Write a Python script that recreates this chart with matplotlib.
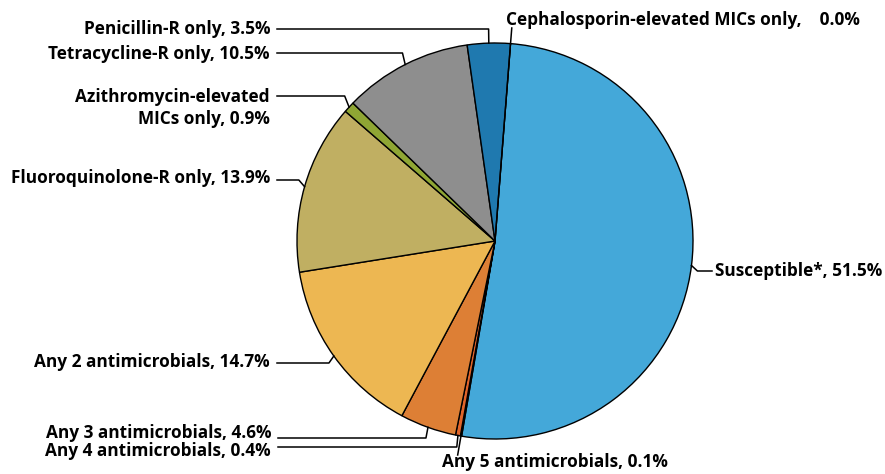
import matplotlib.pyplot as plt
import numpy as np

plt.rcParams['font.family'] = ['Open Sans', 'DejaVu Sans']

# slices, clockwise from just right of 12 o'clock
names = ['Susceptible*', 'Any 5 antimicrobials', 'Any 4 antimicrobials',
         'Any 3 antimicrobials', 'Any 2 antimicrobials', 'Fluoroquinolone-R only',
         'Azithromycin-elevated\nMICs only', 'Tetracycline-R only',
         'Penicillin-R only', 'Cephalosporin-elevated MICs only']
pcts = [51.5, 0.1, 0.4, 4.6, 14.7, 13.9, 0.9, 10.5, 3.5, 0.0]
colors = ['#44A8D9', '#B9472A', '#E0652B', '#DD7F35', '#EDB752',
          '#C0AF62', '#8FA634', '#8E8E8E', '#1F79AF', '#44A8D9']
# gap between name and value (the cephalosporin label has a wide one)
seps = [', '] * 9 + [',    ']

W, H = 885, 474
# label layout in pixels (y from top): text x, baseline y, ha, leader y, leader style
text_x = [715, 442, 271, 271, 270, 270, 270, 270, 270, 506]
base_y = [276, 467, 456.5, 438.5, 367, 183, 102, 59, 34, 25]
ha = ['left', 'left', 'right', 'right', 'right', 'right', 'right', 'right', 'right', 'left']
line_y = [271, 455, 447, 438, 363, 180, 96, 53, 29, 28]
style = ['h', 'r', 'h', 'h', 'h', 'h', 'h', 'h', 'h', 'r']

fig = plt.figure(figsize=(W / 100, H / 100), dpi=100)
ax = fig.add_axes([0, 0, 1, 1])

cx, cy, r = 495, H - 241, 198
wedges, _ = ax.pie(pcts, colors=colors, startangle=85.5, counterclock=False,
                   center=(cx, cy), radius=r,
                   wedgeprops=dict(edgecolor='black', linewidth=1.0))

for i, w in enumerate(wedges):
    ang = np.deg2rad((w.theta1 + w.theta2) / 2)
    dx, dy = np.cos(ang), np.sin(ang)
    ex, ey = cx + r * dx, cy + r * dy
    ly = H - line_y[i]
    if style[i] == 'h':
        t = (ly - ey) / dy if abs(dy) > 1e-6 else 0
        t = min(abs(t), 6)
        bx = ex + dx * t
        if ha[i] == 'right':
            endx = text_x[i] + 7
        else:
            endx = text_x[i] - 3
        ax.plot([ex, bx, endx], [ey, ly, ly], color='black', lw=1.1, solid_joinstyle='round')
    else:
        t = (ly - ey) / dy
        ax.plot([ex, ex + dx * t], [ey, ly], color='black', lw=1.1)

    lab = f'{names[i]}{seps[i]}{pcts[i]:.1f}%'
    for k, part in enumerate(lab.split('\n')):
        ax.text(text_x[i], H - base_y[i] - 22 * k, part, ha=ha[i], va='baseline',
                fontsize=12.4, fontweight='bold', color='black')

ax.set_xlim(0, W)
ax.set_ylim(0, H)
ax.set_aspect('auto')
ax.axis('off')

plt.savefig('out.png', dpi=100)
